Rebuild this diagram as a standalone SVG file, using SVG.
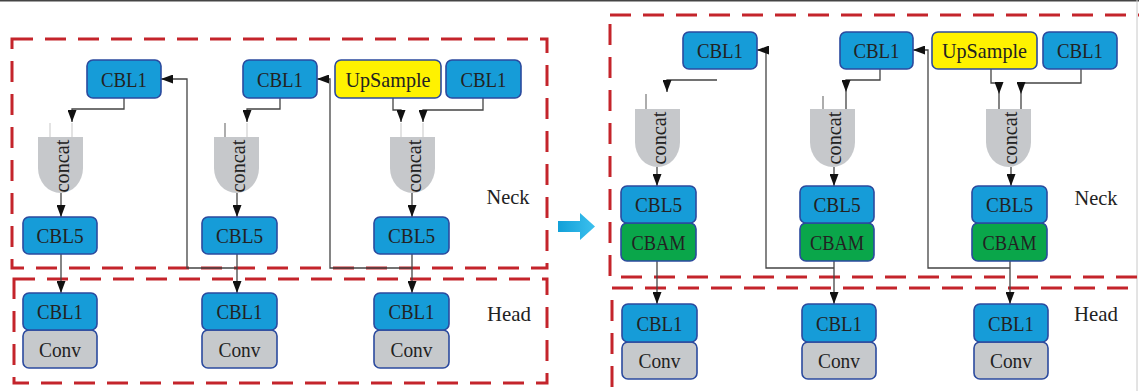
<svg xmlns="http://www.w3.org/2000/svg" width="1139" height="391" viewBox="0 0 1139 391">
<defs>
<style>
.t{font-family:"Liberation Serif","Times New Roman",serif;font-size:22px;fill:#222;text-anchor:middle;dominant-baseline:central}
.cbl{fill:#169cd8;stroke:#2b4a9e;stroke-width:1.6}
.up{fill:#fff200;stroke:#2b4a9e;stroke-width:1.6}
.conv{fill:#c6c9cc;stroke:#2b4a9e;stroke-width:1.6}
.cbam{fill:#0aa64a;stroke:#2b4a9e;stroke-width:1.6}
.cc{fill:#c6c8cb}
.frame{fill:none;stroke:#c4242b;stroke-width:3;stroke-dasharray:21 12}
.ln{fill:none;stroke:#444;stroke-width:1.3}
.ar{fill:none;stroke:#444;stroke-width:1.3;marker-end:url(#ah)}
.stub{fill:none;stroke:#d4d4d4;stroke-width:1.3}
.stubd{fill:none;stroke:#777;stroke-width:1.2}
</style>
<marker id="ah" markerUnits="userSpaceOnUse" markerWidth="12" markerHeight="9" refX="12" refY="4.5" orient="auto">
<path d="M0,0 L12,4.5 L0,9 z" fill="#111"/>
</marker>
<linearGradient id="bg" x1="0" y1="0" x2="1" y2="0">
<stop offset="0" stop-color="#12a0d8"/>
<stop offset="1" stop-color="#3cc0ee"/>
</linearGradient>
</defs>
<rect x="0" y="0" width="1139" height="391" fill="#fff"/>
<rect x="0" y="0" width="1139" height="1.5" fill="#444"/>
<line x1="1137" y1="0" x2="1137" y2="391" stroke="#c8c8c8" stroke-width="1"/>

<g id="frames">
<rect class="frame" x="12" y="39" width="535" height="229"/>
<rect class="frame" x="14" y="279" width="533" height="104"/>
<rect class="frame" x="610" y="15" width="545" height="262"/>
<rect class="frame" x="612" y="288" width="545" height="115"/>
</g>

<g id="transition-arrow">
<path d="M558,221 H580 V213 L595,226.5 L580,240 V232 H558 Z" fill="url(#bg)"/>
</g>

<g id="labels">
<text class="t" x="508" y="196" textLength="43" lengthAdjust="spacingAndGlyphs">Neck</text>
<text class="t" x="509" y="313" textLength="44" lengthAdjust="spacingAndGlyphs">Head</text>
<text class="t" x="1096" y="197" textLength="43" lengthAdjust="spacingAndGlyphs">Neck</text>
<text class="t" x="1096" y="313" textLength="44" lengthAdjust="spacingAndGlyphs">Head</text>
</g>

<g id="connectors">
<path class="stub" d="M50,123 V137 M72,123 V137"/>
<path class="stubd" d="M225,123 V137"/>
<path class="stub" d="M247,123 V137 M401,123 V137 M423,123 V137"/>
<path class="ar" d="M124,98 V109 H72 V122"/>
<path class="ar" d="M280,98 V109 H247 V122"/>
<path class="ar" d="M393,98 V110 H401 V122"/>
<path class="ar" d="M483,98 V110 H423 V122"/>
<path class="ar" d="M61,193 V217"/>
<path class="ar" d="M237,193 V217"/>
<path class="ar" d="M412,193 V217"/>
<path class="ar" d="M61,254 V293"/>
<path class="ar" d="M237,254 V293"/>
<path class="ar" d="M412,254 V293"/>
<path class="ar" d="M237,268 H187 V79 H161"/>
<path class="ar" d="M412,268 H330 V79 H317"/>
<path class="stubd" d="M646,94 V109 M823,96 V109"/>
<path class="ln" d="M846,92 V109 M999,94 V109 M1021,94 V109"/>
<path class="ar" d="M717,80 H667 V92"/>
<path class="ar" d="M880,69 V80 H846 V92"/>
<path class="ar" d="M991,69 V83 H999 V94"/>
<path class="ar" d="M1081,69 V83 H1021 V94"/>
<path class="ar" d="M657,167 V186"/>
<path class="ar" d="M834,167 V186"/>
<path class="ar" d="M1011,167 V186"/>
<path class="ar" d="M657,261 V304"/>
<path class="ar" d="M834,261 V304"/>
<path class="ar" d="M1010,261 V304"/>
<path class="ar" d="M834,268 H766 V50 H757"/>
<path class="ar" d="M1010,268 H928 V50 H913"/>
</g>

<g id="L-cbl1-a"><rect class="cbl" x="87" y="60" width="74" height="38" rx="6"/><text class="t" x="124" y="79" textLength="46" lengthAdjust="spacingAndGlyphs">CBL1</text></g>
<g id="L-cbl1-b"><rect class="cbl" x="243" y="60" width="74" height="38" rx="6"/><text class="t" x="280" y="79" textLength="46" lengthAdjust="spacingAndGlyphs">CBL1</text></g>
<g id="L-upsample"><rect class="up" x="335" y="60" width="106" height="38" rx="6"/><text class="t" x="388" y="79" textLength="85" lengthAdjust="spacingAndGlyphs">UpSample</text></g>
<g id="L-cbl1-c"><rect class="cbl" x="446" y="60" width="75" height="38" rx="6"/><text class="t" x="483.5" y="79" textLength="46" lengthAdjust="spacingAndGlyphs">CBL1</text></g>

<g id="L-concat-a"><path class="cc" d="M38,137 H83 V168 A22.5 25 0 0 1 38,168 Z"/><text class="t" transform="translate(61,166) rotate(-90)" textLength="53" lengthAdjust="spacingAndGlyphs">concat</text></g>
<g id="L-concat-b"><path class="cc" d="M214,137 H259 V168 A22.5 25 0 0 1 214,168 Z"/><text class="t" transform="translate(237,166) rotate(-90)" textLength="53" lengthAdjust="spacingAndGlyphs">concat</text></g>
<g id="L-concat-c"><path class="cc" d="M390,137 H435 V168 A22.5 25 0 0 1 390,168 Z"/><text class="t" transform="translate(413,166) rotate(-90)" textLength="53" lengthAdjust="spacingAndGlyphs">concat</text></g>

<g id="L-cbl5-a"><rect class="cbl" x="23" y="217" width="74" height="37" rx="6"/><text class="t" x="60" y="235.5" textLength="47" lengthAdjust="spacingAndGlyphs">CBL5</text></g>
<g id="L-cbl5-b"><rect class="cbl" x="202" y="217" width="75" height="37" rx="6"/><text class="t" x="239.5" y="235.5" textLength="47" lengthAdjust="spacingAndGlyphs">CBL5</text></g>
<g id="L-cbl5-c"><rect class="cbl" x="374" y="217" width="75" height="37" rx="6"/><text class="t" x="411.5" y="235.5" textLength="47" lengthAdjust="spacingAndGlyphs">CBL5</text></g>

<g id="L-head-a"><rect class="conv" x="23" y="330" width="74" height="38" rx="6"/><rect class="cbl" x="23" y="293" width="74" height="37" rx="6"/><text class="t" x="60" y="311.5" textLength="46" lengthAdjust="spacingAndGlyphs">CBL1</text><text class="t" x="60" y="349.5" textLength="42" lengthAdjust="spacingAndGlyphs">Conv</text></g>
<g id="L-head-b"><rect class="conv" x="202" y="330" width="75" height="38" rx="6"/><rect class="cbl" x="202" y="293" width="75" height="37" rx="6"/><text class="t" x="239.5" y="311.5" textLength="46" lengthAdjust="spacingAndGlyphs">CBL1</text><text class="t" x="239.5" y="349.5" textLength="42" lengthAdjust="spacingAndGlyphs">Conv</text></g>
<g id="L-head-c"><rect class="conv" x="374" y="330" width="75" height="38" rx="6"/><rect class="cbl" x="374" y="293" width="75" height="37" rx="6"/><text class="t" x="411.5" y="311.5" textLength="46" lengthAdjust="spacingAndGlyphs">CBL1</text><text class="t" x="411.5" y="349.5" textLength="42" lengthAdjust="spacingAndGlyphs">Conv</text></g>

<g id="R-cbl1-a"><rect class="cbl" x="683" y="32" width="74" height="37" rx="6"/><text class="t" x="720" y="50.5" textLength="46" lengthAdjust="spacingAndGlyphs">CBL1</text></g>
<g id="R-cbl1-b"><rect class="cbl" x="840" y="32" width="73" height="37" rx="6"/><text class="t" x="876.5" y="50.5" textLength="46" lengthAdjust="spacingAndGlyphs">CBL1</text></g>
<g id="R-upsample"><rect class="up" x="932" y="32" width="105" height="37" rx="6"/><text class="t" x="984.5" y="50.5" textLength="85" lengthAdjust="spacingAndGlyphs">UpSample</text></g>
<g id="R-cbl1-c"><rect class="cbl" x="1043" y="32" width="74" height="37" rx="6"/><text class="t" x="1080" y="50.5" textLength="46" lengthAdjust="spacingAndGlyphs">CBL1</text></g>

<g id="R-concat-a"><path class="cc" d="M635,109 H680 V142 A22.5 25 0 0 1 635,142 Z"/><text class="t" transform="translate(658,138) rotate(-90)" textLength="53" lengthAdjust="spacingAndGlyphs">concat</text></g>
<g id="R-concat-b"><path class="cc" d="M810,109 H855 V142 A22.5 25 0 0 1 810,142 Z"/><text class="t" transform="translate(833,138) rotate(-90)" textLength="53" lengthAdjust="spacingAndGlyphs">concat</text></g>
<g id="R-concat-c"><path class="cc" d="M986,109 H1031 V142 A22.5 25 0 0 1 986,142 Z"/><text class="t" transform="translate(1009,138) rotate(-90)" textLength="53" lengthAdjust="spacingAndGlyphs">concat</text></g>

<g id="R-cbl5-a"><rect class="cbam" x="621" y="223" width="75" height="38" rx="6"/><rect class="cbl" x="621" y="186" width="75" height="37" rx="6"/><text class="t" x="658.5" y="204.5" textLength="47" lengthAdjust="spacingAndGlyphs">CBL5</text><text class="t" x="658.5" y="242" textLength="54" lengthAdjust="spacingAndGlyphs">CBAM</text></g>
<g id="R-cbl5-b"><rect class="cbam" x="800" y="223" width="74" height="38" rx="6"/><rect class="cbl" x="800" y="186" width="74" height="37" rx="6"/><text class="t" x="837" y="204.5" textLength="47" lengthAdjust="spacingAndGlyphs">CBL5</text><text class="t" x="837" y="242" textLength="54" lengthAdjust="spacingAndGlyphs">CBAM</text></g>
<g id="R-cbl5-c"><rect class="cbam" x="972" y="223" width="75" height="38" rx="6"/><rect class="cbl" x="972" y="186" width="75" height="37" rx="6"/><text class="t" x="1009.5" y="204.5" textLength="47" lengthAdjust="spacingAndGlyphs">CBL5</text><text class="t" x="1009.5" y="242" textLength="54" lengthAdjust="spacingAndGlyphs">CBAM</text></g>

<g id="R-head-a"><rect class="conv" x="622" y="342" width="75" height="37" rx="6"/><rect class="cbl" x="622" y="304" width="75" height="38" rx="6"/><text class="t" x="659.5" y="323" textLength="46" lengthAdjust="spacingAndGlyphs">CBL1</text><text class="t" x="659.5" y="360.5" textLength="42" lengthAdjust="spacingAndGlyphs">Conv</text></g>
<g id="R-head-b"><rect class="conv" x="802" y="342" width="74" height="37" rx="6"/><rect class="cbl" x="802" y="304" width="74" height="38" rx="6"/><text class="t" x="839" y="323" textLength="46" lengthAdjust="spacingAndGlyphs">CBL1</text><text class="t" x="839" y="360.5" textLength="42" lengthAdjust="spacingAndGlyphs">Conv</text></g>
<g id="R-head-c"><rect class="conv" x="974" y="342" width="74" height="37" rx="6"/><rect class="cbl" x="974" y="304" width="74" height="38" rx="6"/><text class="t" x="1011" y="323" textLength="46" lengthAdjust="spacingAndGlyphs">CBL1</text><text class="t" x="1011" y="360.5" textLength="42" lengthAdjust="spacingAndGlyphs">Conv</text></g>
</svg>
